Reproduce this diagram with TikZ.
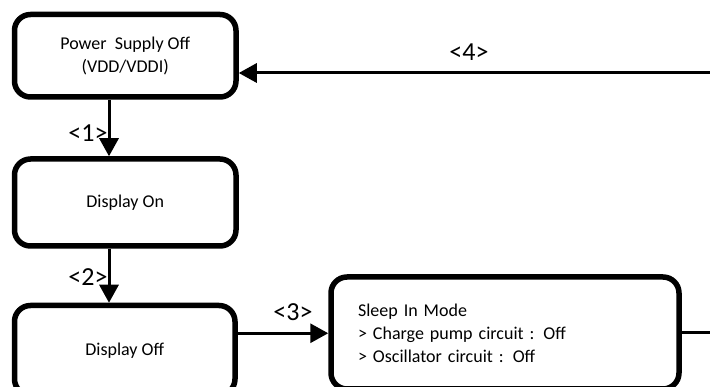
\documentclass[tikz,border=0pt]{standalone}
\usepackage{fontspec}
\setmainfont{Carlito}
\usetikzlibrary{arrows.meta}
\tikzset{
  box/.style={draw, line width=5.5pt, rounded corners=16pt, inner sep=0pt, align=center,
    font=\fontsize{18}{23}\selectfont},
  arr/.style={line width=3pt, -{Triangle[width=19pt,length=18pt]}},
  lbl/.style={font=\fontsize{26}{30}\selectfont, inner sep=0pt},
}
\begin{document}
\begin{tikzpicture}[x=1pt,y=-1pt]
\useasboundingbox (0,0) rectangle (710,387);
\clip (0,0) rectangle (710,387);
\fill[white] (0,0) rectangle (710,387);
\node[box, minimum width=221.5pt, minimum height=82.5pt] (b1) at (125.25,55.75) {Power\ \ Supply Off\\(VDD/VDDI)};
\node[box, minimum width=221.5pt, minimum height=87pt] (b2) at (125.25,202.5) {Display On};
\node[box, minimum width=220.5pt, minimum height=89.5pt] (b3) at (124.75,350.25) {Display Off};
\node[box, minimum width=348pt, minimum height=112pt, text width=294pt, align=left] (b4) at (505,333) {Sleep In Mode\\> Charge pump circuit : Off\\> Oscillator circuit : Off};
\coordinate (rc) at (722,0);
\draw[arr] ([xshift=-16.25pt]b1.south) -- ([xshift=-16.25pt]b2.north);
\draw[arr] ([xshift=-16.25pt]b2.south) -- ([xshift=-15.75pt]b3.north);
\draw[arr] ([yshift=17pt]b3.east) -- ([yshift=17pt]b3.east -| b4.west);
\draw[arr] (b4.east) -- (b4.east -| rc) |- ([yshift=-17.25pt]b1.east);
\node[lbl] (l1) at (88,133) {<1>};
\node[lbl] (l2) at (88,277) {<2>};
\node[lbl] (l3) at (293,312) {<3>};
\node[lbl] (l4) at (469,52) {<4>};
\end{tikzpicture}
\end{document}
